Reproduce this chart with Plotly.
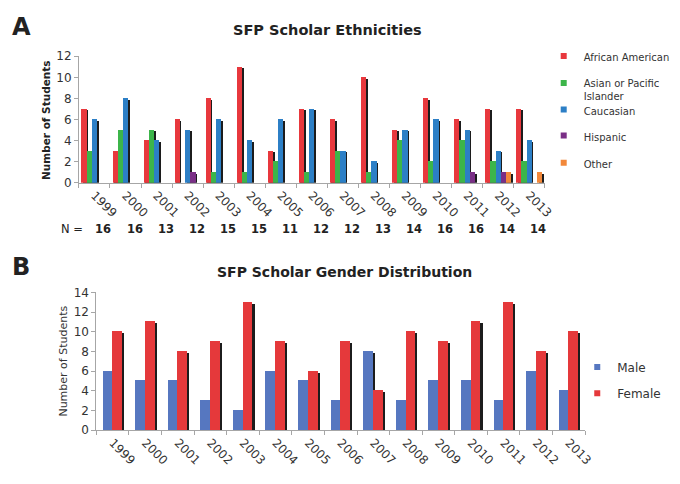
import plotly.graph_objects as go

years = [1999, 2000, 2001, 2002, 2003, 2004, 2005, 2006, 2007, 2008, 2009, 2010, 2011, 2012, 2013]
year_labels = [str(y) for y in years]
n_totals = [16, 16, 13, 12, 15, 15, 11, 12, 12, 13, 14, 16, 16, 14, 14]

eth_names = ["African American", "Asian or Pacific<br>Islander", "Caucasian", "Hispanic", "Other"]
african_american = [7, 3, 4, 6, 8, 11, 3, 7, 6, 10, 5, 8, 6, 7, 7]
asian_pacific = [3, 5, 5, 0, 1, 1, 2, 1, 3, 1, 4, 2, 4, 2, 2]
caucasian = [6, 8, 4, 5, 6, 4, 6, 7, 3, 2, 5, 6, 5, 3, 4]
hispanic = [0, 0, 0, 1, 0, 0, 0, 0, 0, 0, 0, 0, 1, 1, 0]
other = [0, 0, 0, 0, 0, 0, 0, 0, 0, 0, 0, 0, 0, 1, 1]
eth_colors = ["#e8383d", "#3cb54a", "#2c7fc6", "#7a2f86", "#f2883a"]

gender_names = ["Male", "Female"]
male = [6, 5, 5, 3, 2, 6, 5, 3, 8, 3, 5, 5, 3, 6, 4]
female = [10, 11, 8, 9, 13, 9, 6, 9, 4, 10, 9, 11, 13, 8, 10]
gender_colors = ["#5677c0", "#e5393b"]

FONT = "DejaVu Sans"
W, H = 680, 484
SHADOW = "#1c1c1c"


def nz(vals, shift=0.0):
    return [v - shift if v else None for v in vals]


fig = go.Figure()

# ---------- Panel A ----------
eth_series = [african_american, asian_pacific, caucasian, hispanic, other]
bw_a = 0.168
off0_a = -0.42
for k, vals in enumerate(eth_series):
    fig.add_trace(go.Bar(x=years, y=nz(vals, 0.15), width=bw_a, offset=off0_a + k * bw_a + 0.05,
                         marker=dict(color=SHADOW, line_width=0), showlegend=False,
                         hoverinfo="skip", xaxis="x", yaxis="y"))
for k, vals in enumerate(eth_series):
    fig.add_trace(go.Bar(x=years, y=nz(vals), width=bw_a, offset=off0_a + k * bw_a,
                         marker=dict(color=eth_colors[k], line_width=0), showlegend=False,
                         name=eth_names[k].replace("<br>", " "), xaxis="x", yaxis="y"))

# ---------- Panel B ----------
gen_series = [male, female]
bw_b = 0.30
off0_b = -0.30
for k, vals in enumerate(gen_series):
    fig.add_trace(go.Bar(x=years, y=nz(vals, 0.2), width=bw_b, offset=off0_b + k * bw_b + 0.065,
                         marker=dict(color=SHADOW, line_width=0), showlegend=False,
                         hoverinfo="skip", xaxis="x2", yaxis="y2"))
for k, vals in enumerate(gen_series):
    fig.add_trace(go.Bar(x=years, y=nz(vals), width=bw_b, offset=off0_b + k * bw_b,
                         marker=dict(color=gender_colors[k], line_width=0), showlegend=False,
                         name=gender_names[k], xaxis="x2", yaxis="y2"))

# ---------- Legends (proxy markers) ----------
leg_a_y = [52, 85, 107, 134, 162]
for k, name in enumerate(eth_names):
    lname = "legend" if k == 0 else f"legend{k + 1}"
    fig.add_trace(go.Scatter(x=[None], y=[None], mode="markers", name=name,
                             marker=dict(symbol="square", size=6, color=eth_colors[k]),
                             legend=lname, xaxis="x", yaxis="y"))
leg_b_y = [371, 398]
for k, name in enumerate(gender_names):
    lname = f"legend{6 + k}"
    fig.add_trace(go.Scatter(x=[None], y=[None], mode="markers", name=name,
                             marker=dict(symbol="square", size=6, color=gender_colors[k]),
                             legend=lname, xaxis="x2", yaxis="y2"))

legend_common = dict(xanchor="left", yanchor="middle", bgcolor="rgba(0,0,0,0)",
                     borderwidth=0, itemwidth=30, valign="top", itemclick=False,
                     itemdoubleclick=False)
legends = {}
for k in range(5):
    lname = "legend" if k == 0 else f"legend{k + 1}"
    legends[lname] = dict(x=551 / W, y=1 - leg_a_y[k] / H,
                          font=dict(family=FONT, size=10, color="#333333"), **legend_common)
for k in range(2):
    legends[f"legend{6 + k}"] = dict(x=585 / W, y=1 - leg_b_y[k] / H,
                                     font=dict(family=FONT, size=12, color="#333333"),
                                     **legend_common)

axis_x_common = dict(range=[1998.5, 2013.5], showline=True, linecolor="#a6a6a6", linewidth=1,
                     showgrid=False, zeroline=False, ticks="", tickmode="array",
                     tickvals=years, ticktext=year_labels, tickangle=45,
                     tickfont=dict(family=FONT, size=12, color="#333333"),
                     minor=dict(ticks="outside", tick0=1998.5, dtick=1, ticklen=4,
                                tickcolor="#a6a6a6", showgrid=False),
                     fixedrange=True)
axis_y_common = dict(showline=True, linecolor="#a6a6a6", linewidth=1, showgrid=False,
                     zeroline=False, ticks="outside", ticklen=4, tickcolor="#a6a6a6",
                     tickfont=dict(family=FONT, size=12, color="#333333"), dtick=2,
                     fixedrange=True)

fig.update_layout(
    width=W, height=H, margin=dict(l=0, r=0, t=0, b=0),
    paper_bgcolor="white", plot_bgcolor="white", barmode="overlay", bargap=0,
    xaxis=dict(domain=[80 / W, 552 / W], anchor="y", **axis_x_common),
    yaxis=dict(domain=[(H - 181) / H, (H - 50.7) / H], anchor="x", range=[0, 12], **axis_y_common),
    xaxis2=dict(domain=[97.7 / W, 593 / W], anchor="y2", **axis_x_common),
    yaxis2=dict(domain=[(H - 435.7) / H, (H - 294) / H], anchor="x2", range=[0, 14], **axis_y_common),
    **legends,
)

ann = []
ann.append(dict(text="<b>A</b>", x=10 / W, y=1 - 21 / H, xref="paper", yref="paper",
                xanchor="left", yanchor="middle", showarrow=False,
                font=dict(family=FONT, size=24, color="#222222")))
ann.append(dict(text="<b>B</b>", x=10 / W, y=1 - 268 / H, xref="paper", yref="paper",
                xanchor="left", yanchor="middle", showarrow=False,
                font=dict(family=FONT, size=24, color="#222222")))
ann.append(dict(text="<b>SFP Scholar Ethnicities</b>", x=332 / W, y=1 - 24 / H, xref="paper",
                yref="paper", xanchor="center", yanchor="middle", showarrow=False,
                font=dict(family=FONT, size=14.5, color="#222222")))
ann.append(dict(text="<b>SFP Scholar Gender Distribution</b>", x=349 / W, y=1 - 273 / H,
                xref="paper", yref="paper", xanchor="center", yanchor="middle", showarrow=False,
                font=dict(family=FONT, size=14, color="#222222")))
ann.append(dict(text="<b>Number of Students</b>", x=46 / W, y=1 - 116 / H, xref="paper",
                yref="paper", xanchor="center", yanchor="middle", showarrow=False, textangle=-90,
                font=dict(family=FONT, size=10.5, color="#222222")))
ann.append(dict(text="Number of Students", x=64 / W, y=1 - 365 / H, xref="paper",
                yref="paper", xanchor="center", yanchor="middle", showarrow=False, textangle=-90,
                font=dict(family=FONT, size=11, color="#333333")))
ann.append(dict(text="N =", x=73 / W, y=1 - 229 / H, xref="paper", yref="paper",
                xanchor="center", yanchor="middle", showarrow=False,
                font=dict(family=FONT, size=11.5, color="#222222")))
for yr, n in zip(years, n_totals):
    ann.append(dict(text=f"<b>{n}</b>", x=yr, y=1 - 229 / H, xref="x", yref="paper",
                    xanchor="center", yanchor="middle", showarrow=False, xshift=9,
                    font=dict(family=FONT, size=11.5, color="#222222")))
fig.update_layout(annotations=ann)

fig.write_html(
    "out.html",
    config={"displayModeBar": False},
    post_script="document.body.style.margin='0';document.body.style.overflow='hidden';",
)
